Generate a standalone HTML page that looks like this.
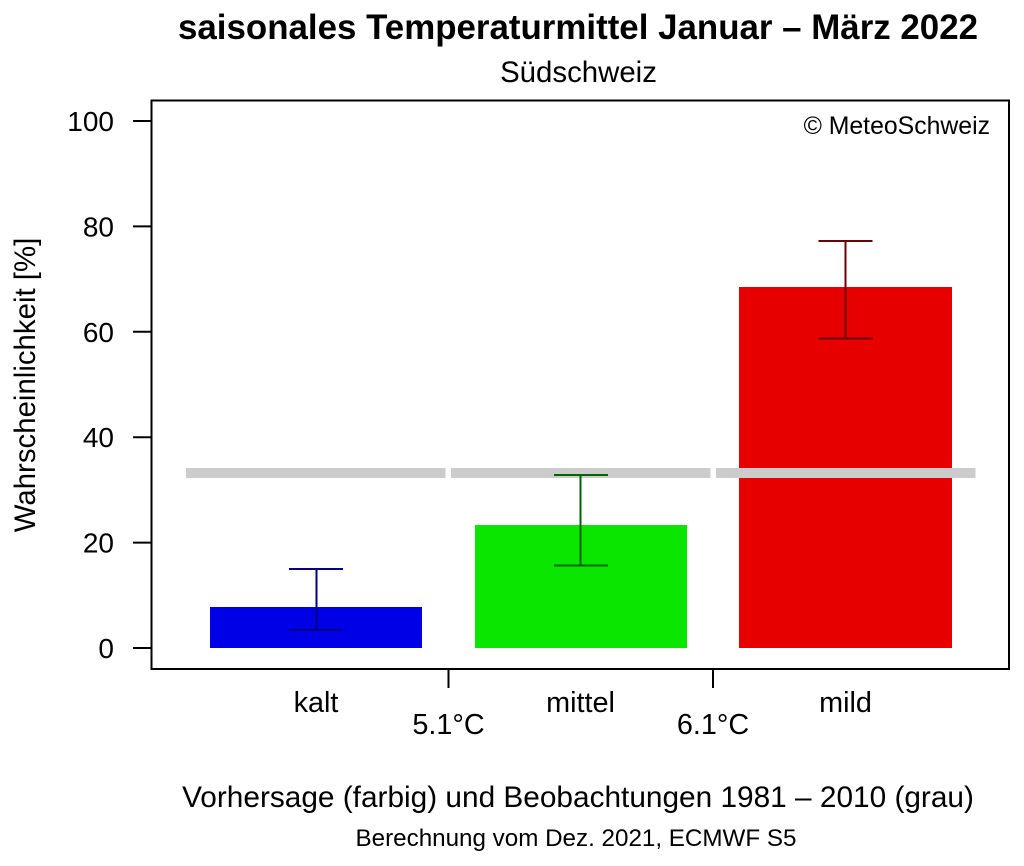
<!DOCTYPE html>
<html><head><meta charset="utf-8">
<style>
html,body{margin:0;padding:0;background:#fff;}
svg{display:block;}
text{font-family:"Liberation Sans",Arial,sans-serif;fill:#000;}
</style></head>
<body>
<svg width="1024" height="866" viewBox="0 0 1024 866" xmlns="http://www.w3.org/2000/svg">
<rect width="1024" height="866" fill="#fff"/>
<!-- titles -->
<text x="578" y="39" font-size="35" font-weight="bold" text-anchor="middle" textLength="800" lengthAdjust="spacingAndGlyphs">saisonales Temperaturmittel Januar – März 2022</text>
<text x="578.5" y="82" font-size="29.4" text-anchor="middle">Südschweiz</text>

<!-- bars -->
<rect x="210" y="607" width="212" height="41" fill="#0000e6"/>
<rect x="475" y="525" width="212" height="123" fill="#0ae600"/>
<rect x="739" y="287" width="213" height="361" fill="#e60000"/>

<!-- climatology gray lines -->
<g stroke="#cccccc" stroke-width="10">
<line x1="186" y1="473" x2="445.5" y2="473"/>
<line x1="451" y1="473" x2="710.5" y2="473"/>
<line x1="716" y1="473" x2="975.5" y2="473"/>
</g>

<!-- error bars -->
<g stroke="#000080" stroke-width="2" fill="none">
<line x1="316.5" y1="569" x2="316.5" y2="630"/>
<line x1="289" y1="569" x2="343" y2="569"/>
<line x1="289" y1="630" x2="343" y2="630"/>
</g>
<g stroke="#006400" stroke-width="2" fill="none">
<line x1="580.5" y1="475" x2="580.5" y2="565.5"/>
<line x1="554" y1="475" x2="608" y2="475"/>
<line x1="554" y1="565.5" x2="608" y2="565.5"/>
</g>
<g stroke="#6b0000" stroke-width="2" fill="none">
<line x1="845.5" y1="241" x2="845.5" y2="338.5"/>
<line x1="818.5" y1="241" x2="872.5" y2="241"/>
<line x1="818.5" y1="338.5" x2="872.5" y2="338.5"/>
</g>

<!-- box -->
<rect x="151.5" y="100.5" width="857.5" height="568.5" fill="none" stroke="#000" stroke-width="2"/>

<!-- y ticks -->
<g stroke="#000" stroke-width="2">
<line x1="133" y1="121" x2="151" y2="121"/>
<line x1="133" y1="226.4" x2="151" y2="226.4"/>
<line x1="133" y1="331.8" x2="151" y2="331.8"/>
<line x1="133" y1="437.2" x2="151" y2="437.2"/>
<line x1="133" y1="542.6" x2="151" y2="542.6"/>
<line x1="133" y1="648" x2="151" y2="648"/>
<!-- x ticks -->
<line x1="448.5" y1="669" x2="448.5" y2="688"/>
<line x1="713" y1="669" x2="713" y2="688"/>
</g>
<g font-size="28" text-anchor="end">
<text x="114" y="131">100</text>
<text x="114" y="236.4">80</text>
<text x="114" y="341.8">60</text>
<text x="114" y="447.2">40</text>
<text x="114" y="552.6">20</text>
<text x="114" y="658">0</text>
</g>

<!-- y axis title -->
<text transform="translate(35,385) rotate(-90)" font-size="29.4" text-anchor="middle">Wahrscheinlichkeit [%]</text>

<!-- x labels -->
<g font-size="28.8" text-anchor="middle">
<text x="316" y="712">kalt</text>
<text x="580.5" y="712">mittel</text>
<text x="845.5" y="712">mild</text>
<text x="448.5" y="734">5.1°C</text>
<text x="713" y="734">6.1°C</text>
</g>

<!-- copyright -->
<text x="990" y="134" font-size="24.8" text-anchor="end">© MeteoSchweiz</text>

<!-- bottom text -->
<text x="578" y="807" font-size="29.8" text-anchor="middle">Vorhersage (farbig) und Beobachtungen 1981 – 2010 (grau)</text>
<text x="576" y="846" font-size="24.2" text-anchor="middle">Berechnung vom Dez. 2021, ECMWF S5</text>
</svg>
</body></html>
